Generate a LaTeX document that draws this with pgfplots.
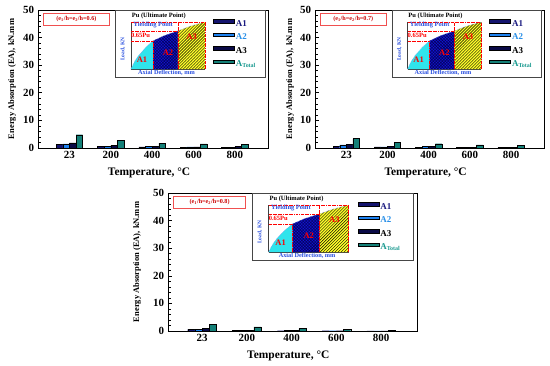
\documentclass[border=0pt]{standalone}
\usepackage{pgfplots}
\pgfplotsset{compat=1.18}
\usepackage{pgfplotstable}
\usepackage{fontspec}
\setmainfont{Liberation Serif}
\usetikzlibrary{patterns}

\definecolor{cA1}{HTML}{14146E}
\definecolor{cA2}{HTML}{1E82F0}
\definecolor{cA3}{HTML}{0A0A46}
\definecolor{cTot}{HTML}{148078}
\definecolor{lA1}{HTML}{1A1A80}
\definecolor{lA2}{HTML}{2A90E8}
\definecolor{lTot}{HTML}{1A9A90}
\definecolor{icyan}{HTML}{30E4EC}
\definecolor{iblue}{HTML}{1414D2}
\definecolor{inavy}{HTML}{000050}
\definecolor{iyellow}{HTML}{FFFF28}
\definecolor{tblue}{HTML}{2A50E0}
\definecolor{rbox}{HTML}{F05050}

\pgfplotstableread{
x a1 a2 a3 tot
0 1.2 1.45 1.9 4.8
1 0.6 0.5 1.0 2.8
2 0.4 0.6 0.6 1.8
3 0.3 0.4 0.4 1.45
4 0.2 0.2 0.5 1.2
}\tabA
\pgfplotstableread{
x a1 a2 a3 tot
0 0.7 1.1 1.2 3.4
1 0.4 0.4 0.6 2.05
2 0.3 0.5 0.5 1.55
3 0.2 0.2 0.3 1.1
4 0.2 0.2 0.2 0.95
}\tabB
\pgfplotstableread{
x a1 a2 a3 tot
0 0.6 0.5 0.85 2.5
1 0.25 0.25 0.35 1.45
2 0.1 0.15 0.3 0.85
3 0.1 0.1 0.1 0.5
4 0.05 0.05 0.05 0.25
}\tabC

\pgfplotsset{
  mylegend/.style={legend image code/.code={\draw[##1,draw=black,line width=0.4bp] (0bp,1.2bp) rectangle (21bp,4.6bp);}},
  barstyle/.style={ybar, bar width=0.16, draw=black, line width=0.4bp, mylegend},
}

% #1 left, #2 top, #3 width, #4 table, #5 ratio, #6 ylabel offset
\newcommand{\panel}[6]{%
\pgfmathsetmacro\ylx{-#6/#3}%
\pgfmathsetmacro\rbw{0.29*#3}%
\pgfmathsetmacro\insx{#1+0.404*#3}%
\pgfmathsetmacro\insw{0.322*#3}%
\pgfmathsetmacro\insy{#2+12}%
\begin{axis}[
  at={(#1bp,-#2bp)}, anchor=north west,
  width=#3bp, height=138bp, scale only axis,
  xmin=-0.76, xmax=4.8, ymin=0, ymax=50,
  ytick={0,10,...,50}, minor y tick num=4,
  xtick={0,1,2,3,4}, xticklabels={23,200,400,600,800},
  tick align=inside, ytick pos=left,
  major x tick style={draw=none},
  major tick length=4bp, minor tick length=2.5bp,
  tick style={black, line width=0.6bp},
  axis line style={line width=0.8bp},
  /pgf/number format/assume math mode=true,
  ticklabel style={font=\bfseries\fontsize{11}{13}\selectfont},
  yticklabel style={xshift=-0.5bp},
  xlabel={Temperature, °C},
  ylabel={Energy Absorption (EA), kN.mm},
  every axis x label/.style={at={(axis description cs:0.483,0)}, anchor=center, yshift=-25bp, font=\bfseries\fontsize{11.5}{13}\selectfont},
  every axis y label/.style={at={(axis description cs:\ylx,0.5)}, rotate=90, anchor=center, font=\bfseries\fontsize{8.5}{10}\selectfont},
  clip=false,
  legend style={at={(rel axis cs:0.761,0.935)}, anchor=north west, draw=none, fill=none,
    font=\bfseries\fontsize{9}{10}\selectfont, row sep=3.6bp, inner sep=0pt,
    nodes={inner sep=1.2bp}},
  legend cell align=left,
]
\draw[fill=white, draw=gray!55!black, line width=1bp] (rel axis cs:0.339,0.993) rectangle (rel axis cs:0.987,0.514);
\node[draw=rbox, text=red!80!black, line width=0.6bp, minimum width=\rbw bp, minimum height=12bp, inner sep=1bp, font=\bfseries\fontsize{6.2}{7}\selectfont] at (rel axis cs:0.167,0.935) {(e\textsubscript{1}/h=e\textsubscript{2}/h=#5)};
\addplot[barstyle, bar shift=-0.24, fill=cA1] table[x=x,y=a1]{#4};
\addlegendentry{\textcolor{lA1}{A1}}
\addplot[barstyle, bar shift=-0.08, fill=cA2] table[x=x,y=a2]{#4};
\addlegendentry{\textcolor{lA2}{A2}}
\addplot[barstyle, bar shift=0.08, fill=cA3] table[x=x,y=a3]{#4};
\addlegendentry{\textcolor{black}{A3}}
\addplot[barstyle, bar shift=0.24, fill=cTot] table[x=x,y=tot]{#4};
\addlegendentry{\textcolor{lTot}{A\textsubscript{Total}}}
\end{axis}
\begin{axis}[
  at={(\insx bp,-\insy bp)}, anchor=north west,
  width=\insw bp, height=47bp, scale only axis,
  xmin=0, xmax=1, ymin=0, ymax=1,
  axis lines=left, axis line style={-, line width=0.8bp, black!75},
  xtick=\empty, ytick=\empty, clip=false,
]
\addplot[fill=icyan, draw=none] coordinates {(0,0) (0.05,0.16) (0.1,0.28) (0.2,0.46) (0.3,0.6)} \closedcycle;
\addplot[fill=iblue, draw=none, postaction={pattern=crosshatch, pattern color=inavy}] coordinates {(0.3,0.6) (0.45,0.71) (0.635,0.81)} \closedcycle;
\addplot[fill=iyellow, draw=none, postaction={pattern=north east lines, pattern color=black}] coordinates {(0.635,0.81) (0.8,0.91) (1,1)} \closedcycle;
\addplot[tblue!60, densely dotted, line width=0.5bp] coordinates {(0,0) (0.05,0.16) (0.1,0.28) (0.2,0.46) (0.3,0.6) (0.45,0.71) (0.635,0.81) (0.8,0.91) (1,1)};
\addplot[red, densely dashdotted, line width=0.6bp] coordinates {(0,1) (1,1)};
\addplot[red, densely dashdotted, line width=0.6bp] coordinates {(0,0.81) (0.635,0.81)};
\addplot[red, densely dashdotted, line width=0.6bp] coordinates {(0,0.6) (0.3,0.6)};
\addplot[red, densely dashdotted, line width=0.6bp] coordinates {(0.3,0) (0.3,0.6)};
\addplot[red, densely dashdotted, line width=0.6bp] coordinates {(0.635,0) (0.635,1)};
\addplot[red, densely dashdotted, line width=0.6bp] coordinates {(1,0) (1,1)};
\node[anchor=west, inner sep=0pt, font=\bfseries\fontsize{6.5}{7}\selectfont] at (axis cs:0.01,1.13) {Pu (Ultimate Point)};
\node[anchor=west, inner sep=0pt, text=tblue, font=\bfseries\fontsize{6.5}{7}\selectfont] at (axis cs:0.03,0.93) {Yielding Point};
\node[anchor=west, inner sep=0pt, text=red, font=\bfseries\fontsize{6.5}{7}\selectfont] at (axis cs:0.0,0.72) {0.65Pu};
\node[rotate=90, inner sep=0pt, text=tblue, font=\bfseries\fontsize{5.5}{6}\selectfont] at (axis cs:-0.11,0.42) {Load, KN};
\node[inner sep=0pt, text=tblue, font=\bfseries\fontsize{6.3}{7}\selectfont] at (axis cs:0.48,-0.08) {Axial Deflection, mm};
\node[inner sep=0pt, text=red, font=\bfseries\fontsize{8.5}{9}\selectfont] at (axis cs:0.15,0.19) {A1};
\node[inner sep=0pt, text=red, font=\bfseries\fontsize{8.5}{9}\selectfont] at (axis cs:0.5,0.34) {A2};
\node[inner sep=0pt, text=red, font=\bfseries\fontsize{8.5}{9}\selectfont] at (axis cs:0.82,0.68) {A3};
\end{axis}
}

\begin{document}
\begin{tikzpicture}
\path (0,0) rectangle (550bp,-366bp);
\panel{38}{10}{230}{\tabA}{0.6}{26}
\panel{315}{10}{229}{\tabB}{0.7}{25}
\panel{168}{193}{249}{\tabC}{0.8}{31}
\end{tikzpicture}
\end{document}
